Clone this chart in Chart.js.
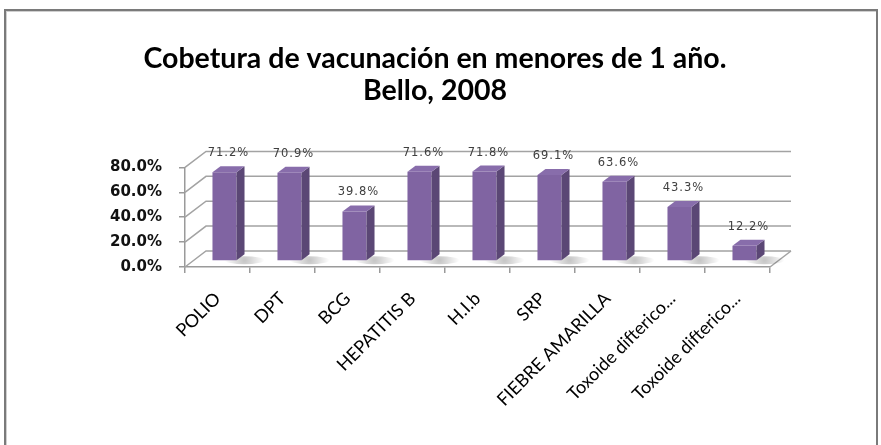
<!DOCTYPE html>
<html lang="es">
<head>
<meta charset="UTF-8">
<title>Cobetura de vacunación</title>
<script src="https://cdn.jsdelivr.net/npm/chart.js"></script>
<style>
  body { margin: 0; background: #fff; }
  #wrap { position: relative; width: 881px; height: 445px; }
  #frame { position: absolute; left: 4px; top: 9px; width: 870px; height: 450px;
           border: 2px solid #7a7a7a; border-bottom: none; box-shadow: inset 1px 1px 0 #cfcfcf; pointer-events: none; }
</style>
</head>
<body>
<div id="wrap">
  <canvas id="vacChart" width="881" height="445"></canvas>
  <div id="frame"></div>
</div>
<script>
const categories = ['POLIO', 'DPT', 'BCG', 'HEPATITIS B', 'H.I.b', 'SRP', 'FIEBRE AMARILLA', 'Toxoide difterico...', 'Toxoide difterico...'];
const coverage = [0.712, 0.709, 0.398, 0.716, 0.718, 0.691, 0.636, 0.433, 0.122];
const yTicks = [0, 0.2, 0.4, 0.6, 0.8];
const titleLines = ['Cobetura de vacunación en menores de 1 año.', 'Bello, 2008'];

// fake 3d look
const depth = { x: 21, y: -16 };     // back wall offset
const shift = { x: 7, y: -6 };       // where the bars stand on the floor
const barDepth = { x: 8, y: -6 };

const pct = v => (v * 100).toFixed(1) + '%';

const wallPlugin = {
  id: 'wall3d',
  beforeDatasetsDraw(chart) {
    const { ctx, chartArea: { left, right, bottom }, scales: { y } } = chart;
    ctx.save();
    ctx.strokeStyle = '#a3a3a3';
    ctx.lineWidth = 1.5;
    yTicks.forEach(v => {
      const py = y.getPixelForValue(v);
      ctx.beginPath();
      ctx.moveTo(left, py);
      ctx.lineTo(left + depth.x, py + depth.y);
      ctx.lineTo(right + depth.x, py + depth.y);
      ctx.stroke();
    });
    ctx.beginPath();
    ctx.moveTo(right, bottom);
    ctx.lineTo(right + depth.x, bottom + depth.y);
    ctx.stroke();

    // floor shadows
    chart.getDatasetMeta(0).data.forEach(bar => {
      const { x, base, width } = bar.getProps(['x', 'base', 'width'], true);
      const sx = x + width / 2 + shift.x + 8;
      const sy = base + shift.y;
      const g = ctx.createRadialGradient(sx, sy, 1, sx, sy, 20);
      g.addColorStop(0, 'rgba(0,0,0,0.22)');
      g.addColorStop(1, 'rgba(0,0,0,0)');
      ctx.fillStyle = g;
      ctx.beginPath();
      ctx.ellipse(sx, sy, 20, 4, 0, 0, Math.PI * 2);
      ctx.fill();
    });
    ctx.restore();

    ctx.save();
    ctx.translate(shift.x, shift.y);
  },
  afterDatasetsDraw(chart) {
    const { ctx } = chart;
    ctx.restore();
    ctx.save();
    chart.getDatasetMeta(0).data.forEach((bar, i) => {
      const { x, y, base, width } = bar.getProps(['x', 'y', 'base', 'width'], true);
      const x1 = x - width / 2 + shift.x;
      const x2 = x + width / 2 + shift.x;
      const ty = y + shift.y;
      const by = base + shift.y;
      // side
      ctx.fillStyle = '#5b4775';
      ctx.beginPath();
      ctx.moveTo(x2, ty);
      ctx.lineTo(x2 + barDepth.x, ty + barDepth.y);
      ctx.lineTo(x2 + barDepth.x, by + barDepth.y);
      ctx.lineTo(x2, by);
      ctx.closePath();
      ctx.fill();
      // top
      ctx.fillStyle = '#886dab';
      ctx.beginPath();
      ctx.moveTo(x1, ty);
      ctx.lineTo(x1 + barDepth.x, ty + barDepth.y);
      ctx.lineTo(x2 + barDepth.x, ty + barDepth.y);
      ctx.lineTo(x2, ty);
      ctx.closePath();
      ctx.fill();
      // value label
      ctx.fillStyle = '#404040';
      ctx.font = '11.5px "DejaVu Sans"';
      ctx.letterSpacing = '1px';
      ctx.textAlign = 'center';
      ctx.textBaseline = 'middle';
      ctx.fillText(pct(coverage[i]), x + shift.x + 4, ty - 19);
    });
    ctx.restore();
  }
};

const ctx = document.getElementById('vacChart').getContext('2d');
new Chart(ctx, {
  type: 'bar',
  data: {
    labels: categories,
    datasets: [{
      label: 'Cobertura',
      data: coverage,
      backgroundColor: '#8064a2',
      barPercentage: 0.37,
      categoryPercentage: 1,
      clip: false
    }]
  },
  options: {
    responsive: false,
    animation: false,
    layout: { padding: { left: 100, right: 111, top: 14, bottom: 0 } },
    plugins: {
      legend: { display: false },
      tooltip: { enabled: false },
      title: {
        display: true,
        text: titleLines,
        color: '#000',
        font: { family: 'Lato', size: 28.5, weight: 'bold', lineHeight: 1.13 },
        padding: { top: 29, bottom: 60 }
      }
    },
    scales: {
      x: {
        offset: true,
        grid: { offset: true, drawOnChartArea: false, tickLength: 6, color: '#9a9a9a', lineWidth: 1.5 },
        border: { color: '#9a9a9a', width: 1.5 },
        ticks: {
          color: '#000',
          font: { family: 'Lato', size: 18 },
          maxRotation: 45, minRotation: 45, autoSkip: false,
          padding: 15
        },
        afterFit: s => { s.height = 178; }
      },
      y: {
        min: 0, max: 0.8,
        afterBuildTicks: s => { s.ticks = yTicks.map(v => ({ value: v })); },
        grid: { drawOnChartArea: false, tickLength: 6, color: '#9a9a9a', lineWidth: 1.5 },
        border: { color: '#9a9a9a', width: 1.5 },
        ticks: {
          color: '#111',
          font: { family: 'DejaVu Sans', size: 15, weight: 'bold' },
          padding: 17,
          callback: v => pct(v)
        },
        afterFit: s => { s.width = 85; }
      }
    }
  },
  plugins: [wallPlugin]
});
</script>
</body>
</html>
